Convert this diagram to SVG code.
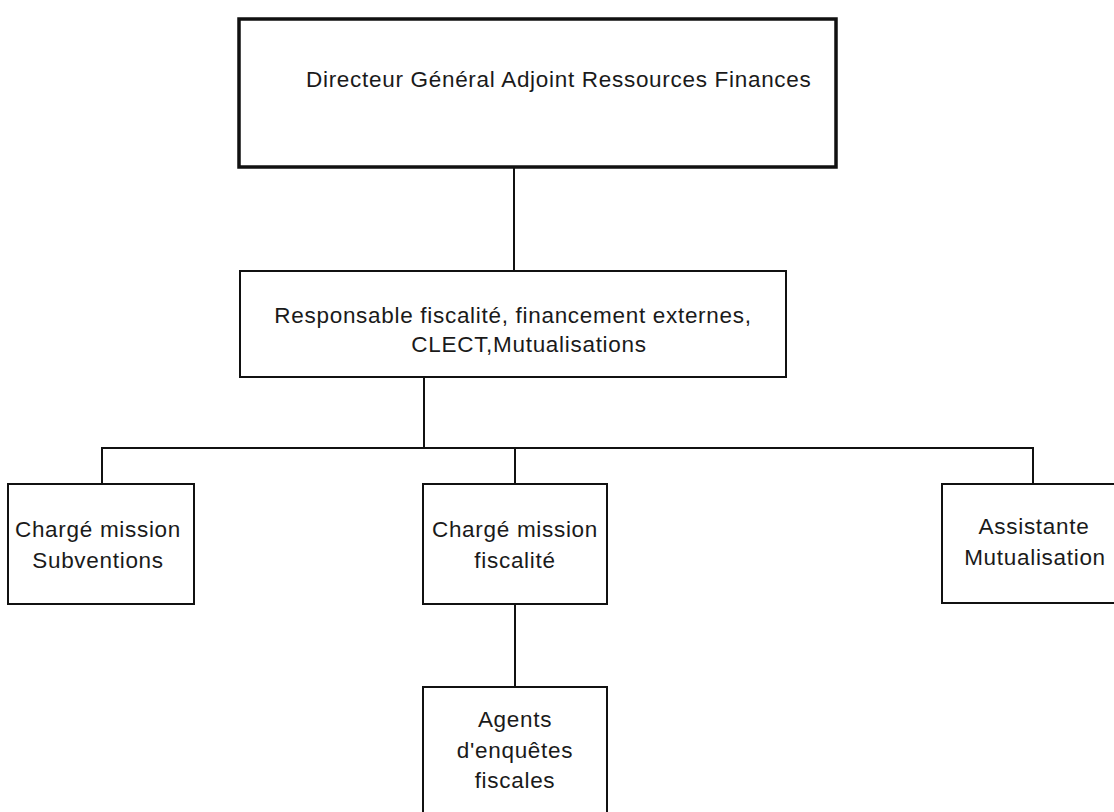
<svg xmlns="http://www.w3.org/2000/svg" width="1114" height="812" viewBox="0 0 1114 812">
<style>
.box{fill:#fff;stroke:#111;stroke-width:2}
.thick{stroke-width:3.5}
.lbl{font-family:"Liberation Sans",Arial,sans-serif;font-size:22.5px;fill:#1a1a1a;letter-spacing:0.7px}
.c{text-anchor:middle}
.wire{fill:none;stroke:#111;stroke-width:2}
</style>
<rect width="1114" height="812" fill="#fff"/>
<g id="connectors">
<line class="wire" x1="514" y1="167" x2="514" y2="271"/>
<line class="wire" x1="424" y1="377" x2="424" y2="448"/>
<polyline class="wire" points="102,484 102,448 1033,448 1033,484"/>
<line class="wire" x1="515" y1="448" x2="515" y2="484"/>
<line class="wire" x1="515" y1="604" x2="515" y2="687"/>
</g>
<g id="dga">
<rect class="box thick" x="239" y="19" width="597" height="148"/>
<text class="lbl" x="306" y="87">Directeur Général Adjoint Ressources Finances</text>
</g>
<g id="responsable">
<rect class="box" x="240" y="271" width="546" height="106"/>
<text class="lbl c" x="513" y="323">Responsable fiscalité, financement externes,</text>
<text class="lbl c" x="529" y="352">CLECT,Mutualisations</text>
</g>
<g id="subventions">
<rect class="box" x="8" y="484" width="186" height="120"/>
<text class="lbl c" x="98" y="537">Chargé mission</text>
<text class="lbl c" x="98" y="568">Subventions</text>
</g>
<g id="fiscalite">
<rect class="box" x="423" y="484" width="184" height="120"/>
<text class="lbl c" x="515" y="537">Chargé mission</text>
<text class="lbl c" x="515" y="568">fiscalité</text>
</g>
<g id="assistante">
<rect class="box" x="942" y="484" width="180" height="119"/>
<text class="lbl c" x="1034" y="534">Assistante</text>
<text class="lbl c" x="1035" y="565">Mutualisation</text>
</g>
<g id="agents">
<rect class="box" x="423" y="687" width="184" height="130"/>
<text class="lbl c" x="515" y="727">Agents</text>
<text class="lbl c" x="515" y="758">d'enquêtes</text>
<text class="lbl c" x="515" y="788">fiscales</text>
</g>
</svg>
